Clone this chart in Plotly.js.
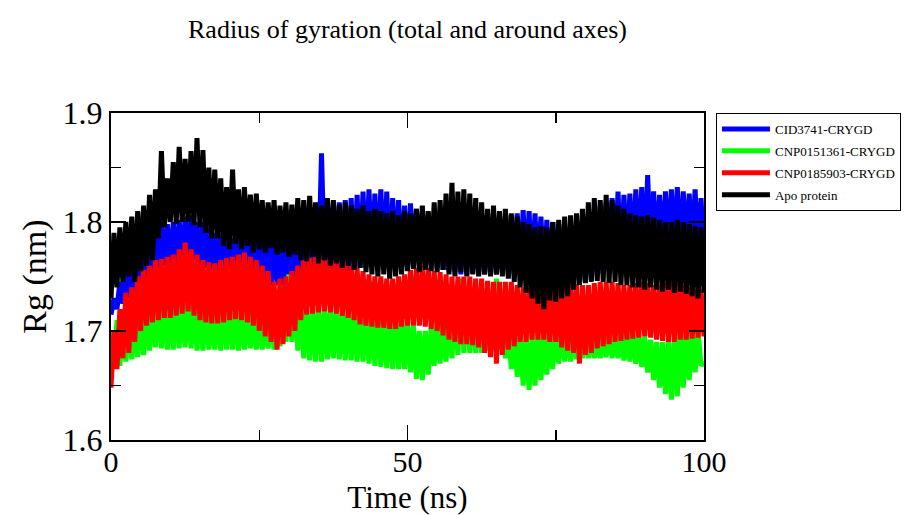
<!DOCTYPE html>
<html>
<head>
<meta charset="utf-8">
<script src="https://cdn.plot.ly/plotly-3.0.1.min.js"></script>
<style>html,body{margin:0;padding:0;background:#fff;}#chart{width:908px;height:515px;}</style>
</head>
<body>
<div id="chart"></div>
<script>
const time = [0,0.5,1,1.5,2,2.5,3,3.5,4,4.5,5,5.5,6,6.5,7,7.5,8,8.5,9,9.5,
10,10.5,11,11.5,12,12.5,13,13.5,14,14.5,15,15.5,16,16.5,17,17.5,18,18.5,19,19.5,
20,20.5,21,21.5,22,22.5,23,23.5,24,24.5,25,25.5,26,26.5,27,27.5,28,28.5,29,29.5,
30,30.5,31,31.5,32,32.5,33,33.5,34,34.5,35,35.5,36,36.5,37,37.5,38,38.5,39,39.5,
40,40.5,41,41.5,42,42.5,43,43.5,44,44.5,45,45.5,46,46.5,47,47.5,48,48.5,49,49.5,
50,50.5,51,51.5,52,52.5,53,53.5,54,54.5,55,55.5,56,56.5,57,57.5,58,58.5,59,59.5,
60,60.5,61,61.5,62,62.5,63,63.5,64,64.5,65,65.5,66,66.5,67,67.5,68,68.5,69,69.5,
70,70.5,71,71.5,72,72.5,73,73.5,74,74.5,75,75.5,76,76.5,77,77.5,78,78.5,79,79.5,
80,80.5,81,81.5,82,82.5,83,83.5,84,84.5,85,85.5,86,86.5,87,87.5,88,88.5,89,89.5,
90,90.5,91,91.5,92,92.5,93,93.5,94,94.5,95,95.5,96,96.5,97,97.5,98,98.5,99,99.5,100];

const seriesNames = ["CID3741-CRYGD", "CNP0151361-CRYGD", "CNP0185903-CRYGD", "Apo protein"];
const seriesColors = ["#0000ff", "#00ff00", "#ff0000", "#000000"];

const rgCID3741 = [
1.715,1.73,1.72,1.745,1.725, 1.755,1.73,1.76,1.735,1.765, 1.74,1.77,1.745,1.78,1.75, 1.79,1.758,1.80,1.76,1.798,
1.76,1.80,1.762,1.802,1.76, 1.805,1.762,1.806,1.765,1.80, 1.76,1.80,1.758,1.795,1.755, 1.79,1.755,1.788,1.752,1.786,
1.752,1.785,1.75,1.786,1.75, 1.785,1.748,1.784,1.746,1.785, 1.745,1.786,1.744,1.785,1.742, 1.784,1.742,1.786,1.74,1.788,
1.742,1.79,1.745,1.795,1.748, 1.80,1.75,1.805,1.752,1.815, 1.755,1.863,1.758,1.82,1.755, 1.815,1.755,1.818,1.756,1.82,
1.755,1.822,1.757,1.825,1.758, 1.828,1.758,1.83,1.76,1.826, 1.76,1.83,1.762,1.828,1.76, 1.822,1.76,1.82,1.758,1.815,
1.758,1.817,1.76,1.812,1.76, 1.81,1.758,1.808,1.76,1.805, 1.758,1.805,1.756,1.80,1.755, 1.80,1.754,1.80,1.752,1.802,
1.752,1.80,1.753,1.798,1.752, 1.80,1.752,1.802,1.753,1.80, 1.752,1.802,1.753,1.805,1.752, 1.806,1.752,1.808,1.752,1.811,
1.752,1.81,1.75,1.808,1.748, 1.805,1.748,1.802,1.746,1.80, 1.745,1.798,1.744,1.795,1.742, 1.796,1.742,1.798,1.744,1.80,
1.745,1.805,1.747,1.81,1.75, 1.815,1.752,1.818,1.756,1.822, 1.76,1.828,1.762,1.825,1.765, 1.826,1.765,1.83,1.766,1.832,
1.765,1.843,1.768,1.828,1.77, 1.825,1.77,1.828,1.772,1.83, 1.772,1.832,1.772,1.828,1.77, 1.826,1.77,1.83,1.768,1.822,
1.765];

const rgCNP0151361 = [
1.70,1.67,1.71,1.668,1.712, 1.672,1.713,1.674,1.714,1.676, 1.715,1.678,1.718,1.682,1.72, 1.685,1.722,1.684,1.726,1.683,
1.728,1.683,1.73,1.684,1.732, 1.685,1.73,1.684,1.727,1.682, 1.725,1.682,1.722,1.683,1.72, 1.683,1.72,1.682,1.72,1.683,
1.72,1.683,1.722,1.682,1.722, 1.683,1.722,1.684,1.718,1.683, 1.715,1.683,1.712,1.684,1.715, 1.683,1.728,1.686,1.742,1.69,
1.752,1.69,1.738,1.682,1.725, 1.675,1.72,1.673,1.722,1.672, 1.722,1.672,1.722,1.674,1.722, 1.675,1.72,1.674,1.72,1.673,
1.72,1.673,1.718,1.672,1.718, 1.672,1.716,1.67,1.716,1.668, 1.716,1.667,1.715,1.666,1.715, 1.665,1.714,1.665,1.712,1.665,
1.71,1.662,1.705,1.656,1.70, 1.655,1.70,1.66,1.705,1.668, 1.71,1.67,1.715,1.672,1.718, 1.675,1.725,1.678,1.748,1.68,
1.74,1.68,1.725,1.68,1.722, 1.68,1.722,1.682,1.728,1.683, 1.748,1.683,1.72,1.675,1.705, 1.665,1.70,1.658,1.698,1.65,
1.695,1.646,1.696,1.65,1.698, 1.655,1.70,1.66,1.705,1.665, 1.71,1.67,1.705,1.672,1.70, 1.672,1.70,1.674,1.70,1.675,
1.70,1.675,1.698,1.675,1.698, 1.675,1.698,1.676,1.70,1.675, 1.70,1.675,1.70,1.673,1.70, 1.672,1.70,1.67,1.698,1.667,
1.695,1.662,1.692,1.655,1.69, 1.648,1.69,1.642,1.692,1.637, 1.692,1.64,1.71,1.648,1.70, 1.655,1.70,1.662,1.70,1.668,
1.672];

const rgCNP0185903 = [
1.648,1.70,1.665,1.72,1.675, 1.735,1.68,1.74,1.69,1.75, 1.70,1.756,1.705,1.76,1.708, 1.765,1.71,1.766,1.712,1.768,
1.712,1.77,1.714,1.775,1.716, 1.781,1.718,1.775,1.714,1.77, 1.71,1.765,1.708,1.763,1.707, 1.762,1.707,1.765,1.708,1.767,
1.71,1.768,1.711,1.77,1.71, 1.772,1.708,1.768,1.705,1.765, 1.70,1.76,1.695,1.755,1.69, 1.745,1.683,1.748,1.688,1.75,
1.695,1.755,1.70,1.76,1.71, 1.765,1.715,1.767,1.716,1.768, 1.717,1.768,1.718,1.766,1.717, 1.765,1.716,1.764,1.714,1.762,
1.712,1.76,1.71,1.758,1.706, 1.755,1.705,1.752,1.704,1.75, 1.703,1.75,1.703,1.748,1.702, 1.748,1.702,1.75,1.704,1.752,
1.705,1.756,1.705,1.758,1.705, 1.76,1.704,1.758,1.702,1.755, 1.70,1.754,1.696,1.752,1.692, 1.75,1.69,1.75,1.688,1.75,
1.688,1.75,1.687,1.748,1.685, 1.748,1.68,1.746,1.676,1.745, 1.67,1.745,1.678,1.745,1.683, 1.745,1.686,1.742,1.69,1.74,
1.69,1.74,1.692,1.738,1.692, 1.738,1.692,1.74,1.69,1.742, 1.69,1.743,1.685,1.745,1.682, 1.745,1.68,1.743,1.67,1.742,
1.678,1.742,1.68,1.744,1.684, 1.745,1.686,1.745,1.688,1.745, 1.69,1.744,1.691,1.742,1.692, 1.742,1.693,1.744,1.694,1.745,
1.695,1.744,1.694,1.742,1.692, 1.742,1.691,1.744,1.69,1.745, 1.69,1.744,1.692,1.742,1.692, 1.74,1.693,1.738,1.694,1.738,
1.695];

const rgApo = [
1.73,1.79,1.74,1.795,1.745, 1.80,1.75,1.805,1.745,1.81, 1.755,1.815,1.76,1.825,1.765, 1.83,1.785,1.865,1.795,1.84,
1.80,1.855,1.798,1.869,1.80, 1.858,1.80,1.865,1.797,1.877, 1.795,1.866,1.79,1.85,1.785, 1.848,1.785,1.84,1.778,1.832,
1.775,1.848,1.78,1.83,1.775, 1.832,1.778,1.825,1.772,1.826, 1.775,1.82,1.772,1.818,1.776, 1.82,1.77,1.815,1.772,1.818,
1.768,1.816,1.77,1.822,1.765, 1.82,1.764,1.824,1.768,1.818, 1.762,1.815,1.765,1.822,1.76, 1.82,1.762,1.816,1.758,1.818,
1.76,1.815,1.756,1.812,1.758, 1.815,1.754,1.81,1.752,1.812, 1.75,1.81,1.752,1.808,1.748, 1.81,1.75,1.806,1.752,1.81,
1.755,1.808,1.757,1.812,1.754, 1.815,1.756,1.81,1.755,1.818, 1.754,1.82,1.756,1.826,1.752, 1.836,1.75,1.828,1.754,1.83,
1.75,1.826,1.752,1.822,1.75, 1.818,1.752,1.812,1.75,1.815, 1.752,1.81,1.75,1.812,1.748, 1.808,1.745,1.805,1.74,1.80,
1.735,1.798,1.73,1.795,1.725, 1.796,1.72,1.795,1.728,1.80, 1.727,1.802,1.73,1.805,1.732, 1.806,1.738,1.808,1.742,1.812,
1.744,1.818,1.745,1.822,1.746, 1.82,1.745,1.825,1.744,1.82, 1.745,1.815,1.742,1.812,1.742, 1.808,1.74,1.806,1.74,1.805,
1.738,1.806,1.74,1.804,1.738, 1.802,1.736,1.80,1.738,1.80, 1.735,1.802,1.736,1.80,1.734, 1.798,1.732,1.796,1.73,1.795,
1.735];

const xTickVals = [0, 50, 100];
const xTickText = ["0", "50", "100"];
const yTickVals = [1.6, 1.7, 1.8, 1.9];
const yTickText = ["1.6", "1.7", "1.8", "1.9"];

const seriesValues = [rgCID3741, rgCNP0151361, rgCNP0185903, rgApo];
const serif = "Liberation Serif";

const traces = seriesValues.map((vals, i) => ({
  type: "scatter",
  mode: "lines",
  x: time,
  y: vals,
  name: seriesNames[i],
  legendgroup: "g" + i,
  line: { color: seriesColors[i], width: 5 },
  hoverinfo: "skip"
}));

const layout = {
  width: 908,
  height: 515,
  margin: { l: 111, r: 204, t: 113, b: 75 },
  paper_bgcolor: "#ffffff",
  plot_bgcolor: "#ffffff",
  font: { family: serif, color: "#000" },
  title: {
    text: "Radius of gyration (total and around axes)",
    font: { family: serif, size: 26, color: "#000" },
    x: 0.5, xanchor: "center", y: 0.944, yanchor: "middle", xref: "paper", yref: "container"
  },
  xaxis: {
    range: [0, 100],
    tickvals: xTickVals,
    ticktext: xTickText,
    ticks: "inside",
    ticklen: 15,
    tickwidth: 1.5,
    tickcolor: "#000",
    showline: true,
    linewidth: 2,
    linecolor: "#000",
    mirror: "allticks",
    showgrid: false,
    zeroline: false,
    ticklabelstandoff: -6,
    tickfont: { family: serif, size: 30, color: "#000" },
    minor: { tickvals: [25, 75], ticks: "inside", ticklen: 10, tickwidth: 1.5, tickcolor: "#000", showgrid: false },
    title: { text: "Time (ns)", font: { family: serif, size: 31, color: "#000" }, standoff: 9 }
  },
  yaxis: {
    range: [1.6, 1.9],
    tickvals: yTickVals,
    ticktext: yTickText,
    ticks: "inside",
    ticklen: 15,
    tickwidth: 1.5,
    tickcolor: "#000",
    showline: true,
    linewidth: 2,
    linecolor: "#000",
    mirror: "allticks",
    showgrid: false,
    zeroline: false,
    tickfont: { family: serif, size: 32, color: "#000" },
    minor: { tickvals: [1.65, 1.75, 1.85], ticks: "inside", ticklen: 10, tickwidth: 1.5, tickcolor: "#000", showgrid: false },
    title: { text: "Rg (nm)", font: { family: serif, size: 34, color: "#000" }, standoff: 6 }
  },
  showlegend: true,
  legend: {
    xref: "container", yref: "container",
    x: 0.7885, xanchor: "left", y: 0.7806, yanchor: "top",
    bordercolor: "#000", borderwidth: 1, bgcolor: "#fff",
    font: { family: serif, size: 13, color: "#000" },
    traceorder: "grouped", tracegroupgap: 2,
    itemwidth: 48
  }
};

Plotly.newPlot("chart", traces, layout, { staticPlot: true, displayModeBar: false });
</script>
</body>
</html>
